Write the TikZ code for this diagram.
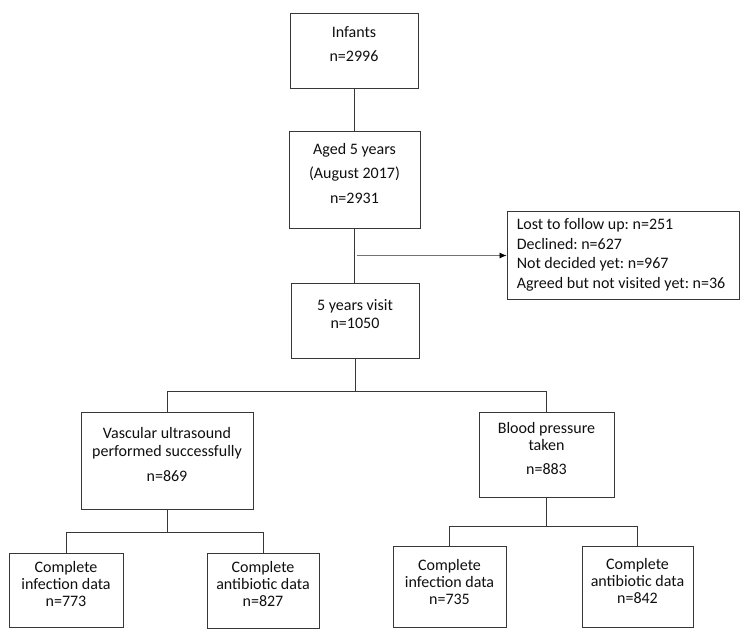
\documentclass[tikz,border=0pt]{standalone}
\usepackage{fontspec}
\setmainfont{Carlito}
\frenchspacing
\usetikzlibrary{arrows.meta,calc}
\definecolor{linegrey}{RGB}{55,55,55}
\definecolor{textgrey}{RGB}{15,15,15}

\begin{document}
\begin{tikzpicture}[
    x=1pt, y=-1pt,
    box/.style={rectangle, draw=linegrey, line width=0.9pt, inner sep=0pt},
    txt/.style={align=center, inner sep=0pt, text=textgrey},
    ln/.style={draw=linegrey, line width=0.9pt},
    arr/.style={-{Latex[length=7pt,width=6pt,color=black]}, line width=0.8pt, draw=black!55}
]
    \useasboundingbox (0,0) rectangle (750,639);

    % boxes
    \node[box, minimum width=128pt, minimum height=75pt] (inf) at (354,50.5) {};
    \node[box, minimum width=131pt, minimum height=97pt] (aged) at (354.5,179.5) {};
    \node[box, minimum width=232pt, minimum height=88pt] (lost) at (623,255) {};
    \node[box, minimum width=128pt, minimum height=75pt] (visit) at (355,320.5) {};
    \node[box, minimum width=172pt, minimum height=97pt] (vasc) at (167,460.5) {};
    \node[box, minimum width=135pt, minimum height=85pt] (bp) at (546.5,454.5) {};
    \node[box, minimum width=114pt, minimum height=74pt] (vinf) at (66,590) {};
    \node[box, minimum width=112pt, minimum height=75pt] (vabx) at (263,590.5) {};
    \node[box, minimum width=113pt, minimum height=81pt] (binf) at (449.5,586.5) {};
    \node[box, minimum width=111pt, minimum height=81pt] (babx) at (637.5,586.5) {};

    % texts
    \node[txt, font=\fontsize{16}{24}\selectfont] (inf-t) at ([yshift=6pt]inf.center) {Infants\\n=2996};
    \node[txt, font=\fontsize{16}{24.5}\selectfont] (aged-t) at ([yshift=6pt]aged.center) {Aged 5 years\\(August 2017)\\n=2931};
    \node[txt, align=left, anchor=west, font=\fontsize{16}{19.5}\selectfont] (lost-t) at ([xshift=10pt]lost.west)
        {Lost to follow up: n=251\\Declined: n=627\\Not decided yet: n=967\\Agreed but not visited yet: n=36};
    \node[txt, font=\fontsize{16}{18}\selectfont] (visit-t) at ([yshift=6pt]visit.center) {5 years visit\\n=1050};
    \node[txt, font=\fontsize{16}{18}\selectfont] (vasc-t) at ([yshift=6pt]vasc.center) {Vascular ultrasound\\performed successfully\\[7pt]n=869};
    \node[txt, font=\fontsize{16}{17}\selectfont] (bp-t) at ([yshift=6pt]bp.center) {Blood pressure\\taken\\[7pt]n=883};
    \node[txt, font=\fontsize{16}{17}\selectfont] (vinf-t) at ([yshift=6pt]vinf.center) {Complete\\infection data\\n=773};
    \node[txt, font=\fontsize{16}{17}\selectfont] (vabx-t) at ([yshift=6pt]vabx.center) {Complete\\antibiotic data\\n=827};
    \node[txt, font=\fontsize{16}{17}\selectfont] (binf-t) at ([yshift=5pt]binf.center) {Complete\\infection data\\n=735};
    \node[txt, font=\fontsize{16}{17}\selectfont] (babx-t) at ([yshift=5pt]babx.center) {Complete\\antibiotic data\\n=842};

    % connectors
    \draw[ln] (inf.south) -- (inf.south |- aged.north);
    \draw[ln] (aged.south) -- (aged.south |- visit.north);
    \coordinate (split) at ($(aged.south)!0.5!(visit.north)$);
    \draw[arr] ([xshift=2pt]split) -- (split -| lost.west);

    \draw[ln] (visit.south) -- ++(0,34);
    \draw[ln] (vasc.north) -- ++(0,-20) -| (bp.north);
    \draw[ln] (vasc.south) -- ++(0,24);
    \draw[ln] (vinf.north) -- ++(0,-20) -| (vabx.north);
    \draw[ln] (bp.south) -- ++(0,30);
    \draw[ln] (binf.north) -- ++(0,-19) -| (babx.north);
\end{tikzpicture}
\end{document}
